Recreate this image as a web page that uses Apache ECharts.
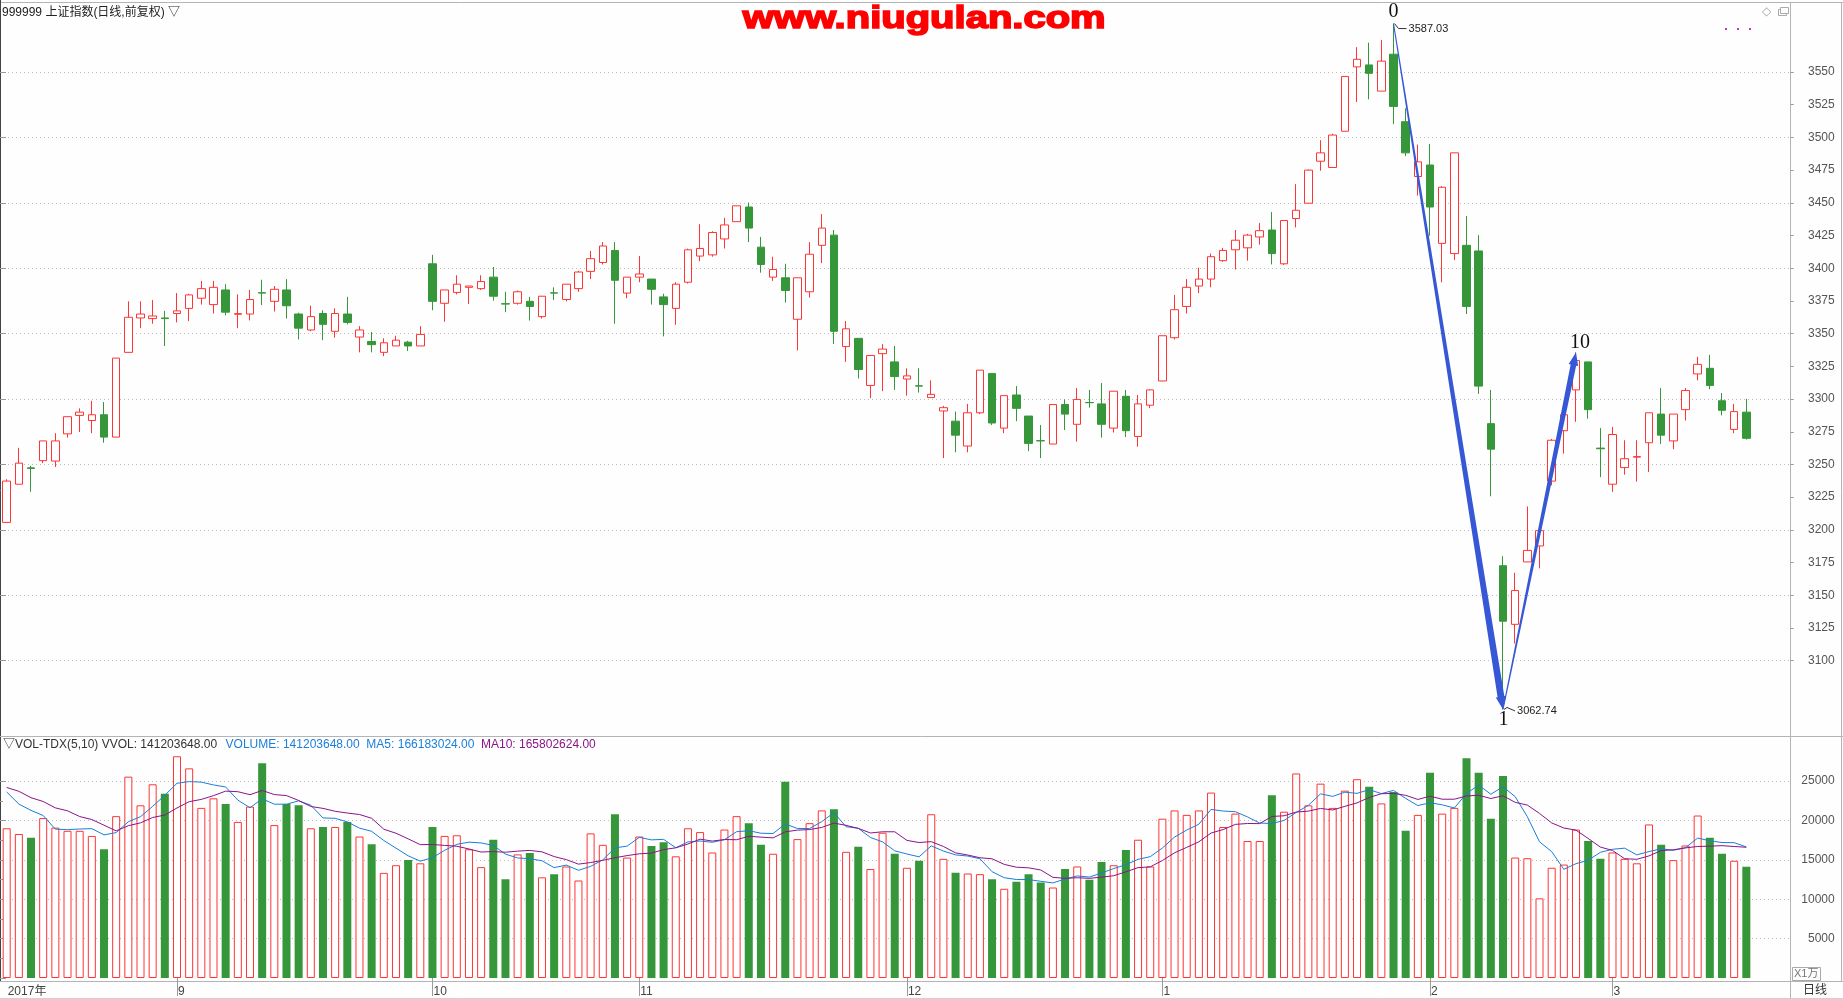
<!DOCTYPE html>
<html>
<head>
<meta charset="utf-8">
<title>上证指数 日线</title>
<script src="https://cdn.jsdelivr.net/npm/echarts@6.0.0/dist/echarts.min.js"></script>
<style>
html,body{margin:0;padding:0;background:#fefefe;overflow:hidden;}
#chart{width:1843px;height:999px;}
</style>
</head>
<body>
<div id="chart"></div>
<script>
// ---------------- data ----------------
const dates = [
'2017-08-14','2017-08-15','2017-08-16','2017-08-17','2017-08-18','2017-08-21','2017-08-22','2017-08-23','2017-08-24','2017-08-25','2017-08-28','2017-08-29','2017-08-30','2017-08-31',
'2017-09-01','2017-09-04','2017-09-05','2017-09-06','2017-09-07','2017-09-08','2017-09-11','2017-09-12','2017-09-13','2017-09-14','2017-09-15','2017-09-18','2017-09-19','2017-09-20','2017-09-21','2017-09-22','2017-09-25','2017-09-26','2017-09-27','2017-09-28','2017-09-29',
'2017-10-09','2017-10-10','2017-10-11','2017-10-12','2017-10-13','2017-10-16','2017-10-17','2017-10-18','2017-10-19','2017-10-20','2017-10-23','2017-10-24','2017-10-25','2017-10-26','2017-10-27','2017-10-30','2017-10-31',
'2017-11-01','2017-11-02','2017-11-03','2017-11-06','2017-11-07','2017-11-08','2017-11-09','2017-11-10','2017-11-13','2017-11-14','2017-11-15','2017-11-16','2017-11-17','2017-11-20','2017-11-21','2017-11-22','2017-11-23','2017-11-24','2017-11-27','2017-11-28','2017-11-29','2017-11-30',
'2017-12-01','2017-12-04','2017-12-05','2017-12-06','2017-12-07','2017-12-08','2017-12-11','2017-12-12','2017-12-13','2017-12-14','2017-12-15','2017-12-18','2017-12-19','2017-12-20','2017-12-21','2017-12-22','2017-12-25','2017-12-26','2017-12-27','2017-12-28','2017-12-29',
'2018-01-02','2018-01-03','2018-01-04','2018-01-05','2018-01-08','2018-01-09','2018-01-10','2018-01-11','2018-01-12','2018-01-15','2018-01-16','2018-01-17','2018-01-18','2018-01-19','2018-01-22','2018-01-23','2018-01-24','2018-01-25','2018-01-26','2018-01-29','2018-01-30','2018-01-31',
'2018-02-01','2018-02-02','2018-02-05','2018-02-06','2018-02-07','2018-02-08','2018-02-09','2018-02-12','2018-02-13','2018-02-14','2018-02-22','2018-02-23','2018-02-26','2018-02-27','2018-02-28',
'2018-03-01','2018-03-02','2018-03-05','2018-03-06','2018-03-07','2018-03-08','2018-03-09','2018-03-12','2018-03-13','2018-03-14','2018-03-15','2018-03-16'
];

const opens = [3205.7,3234.9,3247.4,3252.9,3252.6,3273.4,3287.5,3283.6,3288.0,3270.9,
3335.7,3362.0,3361.5,3362.0,3365.4,3369.3,3377.1,3372.2,3383.4,3364.8,
3365.0,3381.3,3374.7,3383.4,3365.0,3352.8,3365.4,3351.8,3365.0,3347.4,
3344.0,3335.7,3340.6,3343.5,3340.6,3403.4,3373.2,3381.5,3385.4,3384.4,
3393.2,3372.9,3373.2,3374.7,3363.0,3381.2,3376.1,3384.4,3397.6,3404.4,
3413.6,3381.0,3393.2,3391.7,3378.1,3369.3,3389.3,3409.3,3410.2,3422.4,
3435.6,3446.8,3416.1,3393.2,3392.7,3361.0,3382.0,3417.5,3425.3,3340.1,
3346.4,3310.4,3334.7,3328.4,3315.3,3310.1,3301.1,3290.9,3283.1,3264.1,
3289.5,3319.6,3277.8,3303.1,3287.0,3268.2,3265.6,3295.8,3280.7,3297.4,
3296.3,3277.8,3302.1,3271.4,3295.3,3313.8,3346.9,3370.8,3386.4,3391.7,
3405.8,3414.1,3415.6,3423.9,3429.2,3403.4,3438.0,3449.7,3481.8,3477.0,
3504.7,3553.9,3555.4,3535.4,3563.6,3512.0,3470.1,3478.9,3419.0,3411.2,
3417.5,3413.2,3281.2,3172.6,3127.8,3175.5,3187.7,3237.3,3275.8,3307.0,
3328.4,3262.5,3234.9,3247.6,3255.6,3266.6,3288.5,3268.0,3291.9,3319.2,
3323.5,3298.7,3276.8,3290.0];

const closes = [3237.3,3251.0,3247.0,3268.0,3268.0,3286.5,3290.0,3288.0,3270.9,3331.3,
3362.5,3365.0,3363.5,3361.5,3367.4,3379.6,3384.4,3385.4,3366.4,3365.3,
3376.1,3381.0,3383.9,3371.3,3354.2,3363.0,3357.1,3365.4,3358.6,3352.8,
3341.6,3343.0,3345.0,3340.6,3349.4,3374.7,3383.4,3387.8,3386.4,3389.8,
3378.6,3372.6,3382.0,3370.8,3378.6,3381.0,3387.8,3397.1,3407.3,3417.0,
3390.8,3393.2,3395.6,3383.9,3372.2,3387.8,3414.1,3415.1,3427.3,3433.1,
3447.7,3430.7,3402.9,3399.0,3383.0,3392.7,3410.7,3430.7,3351.8,3353.7,
3322.6,3333.3,3338.2,3317.2,3317.7,3309.9,3303.6,3293.4,3272.4,3289.5,
3322.1,3281.7,3302.6,3292.9,3266.1,3268.0,3295.8,3288.5,3299.7,3297.2,
3280.7,3306.0,3275.8,3296.3,3307.0,3348.4,3368.3,3385.4,3391.7,3408.8,
3413.6,3421.4,3425.3,3428.7,3411.2,3436.5,3444.3,3475.0,3488.2,3501.8,
3546.6,3559.7,3549.0,3558.3,3523.7,3488.2,3481.3,3446.8,3461.9,3488.2,
3370.8,3309.9,3261.7,3130.2,3153.6,3184.3,3199.4,3268.5,3288.0,3329.4,
3291.9,3262.0,3272.9,3254.4,3256.0,3289.5,3272.4,3288.5,3306.5,3326.5,
3310.4,3291.4,3290.4,3270.0];

const lows = [3205.7,3234.9,3229.1,3251.0,3248.1,3270.5,3274.8,3273.9,3266.6,3270.9,
3335.7,3354.2,3357.6,3340.6,3358.6,3359.6,3372.2,3365.4,3364.0,3354.2,
3360.1,3371.8,3366.9,3361.5,3345.5,3351.8,3345.0,3346.9,3357.1,3335.7,
3335.7,3332.8,3340.6,3336.7,3340.6,3367.9,3359.1,3380.0,3372.7,3383.4,
3375.2,3366.4,3372.2,3360.0,3361.5,3375.7,3374.7,3382.0,3391.7,3402.9,
3357.6,3377.1,3389.3,3372.2,3347.9,3356.7,3388.3,3405.4,3408.8,3415.1,
3435.6,3420.0,3396.6,3390.3,3373.7,3337.2,3377.6,3403.9,3342.0,3328.4,
3315.7,3300.7,3306.0,3307.0,3302.6,3305.0,3301.1,3254.9,3259.3,3259.3,
3288.5,3280.2,3273.9,3283.1,3260.2,3254.9,3265.6,3276.3,3267.5,3293.4,
3270.5,3274.4,3271.0,3263.6,3293.0,3313.8,3345.5,3365.4,3381.0,3385.4,
3404.9,3399.0,3405.8,3418.0,3402.9,3402.4,3431.2,3449.7,3474.5,3477.0,
3504.7,3527.1,3529.1,3535.4,3510.1,3485.7,3455.5,3424.8,3389.3,3406.3,
3365.0,3304.0,3225.7,3062.74,3113.2,3175.5,3170.6,3234.0,3258.3,3282.6,
3285.0,3240.3,3229.1,3242.2,3236.9,3244.2,3265.6,3261.7,3283.6,3314.3,
3307.5,3287.5,3273.9,3269.0];

const highs = [3238.7,3262.7,3249.0,3268.0,3273.9,3286.5,3292.9,3298.7,3297.7,3331.3,
3374.7,3374.7,3375.7,3367.4,3381.0,3380.5,3390.3,3390.3,3387.8,3380.0,
3383.4,3391.2,3386.4,3391.7,3366.0,3371.3,3367.9,3369.3,3378.1,3355.7,
3351.3,3346.4,3348.4,3344.5,3355.7,3410.2,3383.4,3394.6,3386.4,3394.6,
3401.0,3382.0,3383.0,3378.1,3378.6,3385.4,3387.8,3398.0,3413.2,3420.0,
3420.0,3393.2,3409.3,3391.7,3380.5,3389.3,3415.0,3433.6,3428.3,3438.5,
3447.7,3450.2,3423.9,3408.8,3403.4,3392.7,3420.0,3441.4,3429.2,3359.6,
3346.4,3333.3,3342.0,3340.6,3323.5,3323.5,3314.3,3294.8,3290.4,3296.3,
3322.1,3319.6,3302.6,3309.9,3287.0,3280.2,3295.8,3299.7,3308.4,3307.0,
3312.3,3306.0,3307.0,3303.1,3307.5,3348.4,3379.6,3391.7,3400.5,3411.2,
3415.6,3429.2,3426.3,3434.6,3442.9,3436.5,3464.3,3475.5,3497.9,3502.8,
3546.6,3569.0,3572.4,3574.4,3587.03,3522.2,3494.5,3495.0,3462.8,3488.2,
3439.9,3425.3,3307.0,3179.9,3167.2,3217.9,3199.4,3269.5,3288.0,3335.7,
3328.4,3277.8,3278.7,3268.5,3268.5,3289.5,3308.4,3288.5,3308.4,3332.3,
3333.8,3304.6,3296.3,3300.2];

// volume in 万 (x10000)
const volumes = [19012,18283,17798,20306,19092,18688,18688,18041,16342,20549,
25564,21924,24594,23380,28153,26616,21600,22814,22086,19820,
21762,27263,19416,22086,21924,19012,19173,19173,19820,17960,
16989,13349,14319,14967,14562,19173,18041,18122,16342,14077,
17555,12540,15695,15856,12782,13187,14158,12378,18364,16908,
20791,15290,17960,16746,17232,15452,19012,18526,15937,18850,
20549,19659,16908,15776,24917,17636,19659,21277,21439,16018,
16665,13834,18445,15776,13996,14886,20791,15128,13349,13268,
13187,12540,11326,12216,13187,12135,11488,13834,14158,12459,
14724,14319,16261,17555,14158,20225,21277,20710,21277,23542,
19173,20872,17394,17394,23218,21115,25969,21924,24675,21600,
23785,25241,24270,22167,23623,18688,20710,26050,20872,21600,
27911,26050,20225,25645,15290,15209,10113,13996,14400,18850,
17394,15128,15937,15128,14562,19497,16908,14967,16827,20630,
17798,15776,14886,14120.36];

// volumes of the 9 sessions before 2017-08-14 (estimated from where the MA5 / MA10 lines start)
const priorVolumes = [23133,25898,25156,27182,22406,25968,21843,23541,27751];

// wave annotation points
const waveIdx = [114, 123, 129];
const wavePrice = [3587.03, 3062.74, 3335.7];
const waveNames = ['0', '1', '10'];

const titleText = '999999 上证指数(日线,前复权) ▽';
const volHead1 = '▽VOL-TDX(5,10) VVOL: 141203648.00';
const volHead2 = 'VOLUME: 141203648.00  MA5: 166183024.00';
const volHead3 = 'MA10: 165802624.00';
const watermark = 'www.niugulan.com';

// ---------------- derived ----------------
const RED = '#ff3434', GREEN = '#36963a';
const allVol = priorVolumes.concat(volumes);
function movingAvg(n) {
  const off = priorVolumes.length;
  return volumes.map((_, i) => {
    let s = 0;
    for (let k = 0; k < n; k++) s += allVol[i + off - k];
    return +(s / n).toFixed(1);
  });
}
const ma5 = movingAvg(5);
const ma10 = movingAvg(10);
const candleData = dates.map((d, i) => [opens[i], closes[i], lows[i], highs[i]]);
const volData = volumes.map((v, i) => ({
  value: v,
  itemStyle: closes[i] >= opens[i]
    ? { color: '#ffffff', borderColor: RED, borderWidth: 1 }
    : { color: GREEN, borderColor: GREEN, borderWidth: 0 }
}));
function isMonthStart(i) {
  return i === 0 || dates[i].slice(5, 7) !== dates[i - 1].slice(5, 7);
}
const segData = waveIdx.slice(0, -1).map((x, k) => [waveIdx[k], wavePrice[k], waveIdx[k + 1], wavePrice[k + 1]]);
const waveData = waveIdx.map((x, k) => [x, wavePrice[k]]);

// ---------------- layout ----------------
const PLOT_L = 0.6, PLOT_W = 1751.8;       // candle area
const PANE_W = 1790.7;                      // pane incl. empty right part
const SANS = '"Liberation Sans","Noto Sans CJK SC","DejaVu Sans",sans-serif';
const SERIF = '"Liberation Serif","DejaVu Serif",serif';
const ARROW = '#3658d6';

function arrowItem(params, api) {
  const a = api.coord([api.value(0), api.value(1)]);
  const b = api.coord([api.value(2), api.value(3)]);
  const k = params.dataIndex;
  const endHalf = [3.4, 2.8][k] || 3, headHalf = [5.2, 4.8][k] || 5, headLen = 13, startHalf = 0.5;
  const dx = b[0] - a[0], dy = b[1] - a[1], len = Math.hypot(dx, dy);
  const ux = dx / len, uy = dy / len, nx = -uy, ny = ux;
  const sx = b[0] - ux * headLen, sy = b[1] - uy * headLen;
  const pts = [
    [a[0] + nx * startHalf, a[1] + ny * startHalf],
    [sx + nx * endHalf, sy + ny * endHalf],
    [sx + nx * headHalf, sy + ny * headHalf],
    [b[0], b[1]],
    [sx - nx * headHalf, sy - ny * headHalf],
    [sx - nx * endHalf, sy - ny * endHalf],
    [a[0] - nx * startHalf, a[1] - ny * startHalf]
  ];
  return { type: 'polygon', shape: { points: pts }, style: { fill: ARROW } };
}

function txt(text, x, y, font, fill, align, valign) {
  return { type: 'text', style: { text, x, y, font, fill, align, textAlign: align, verticalAlign: valign, textVerticalAlign: valign } };
}

function waveLabelItem(params, api) {
  const k = params.dataIndex;
  const p = api.coord([api.value(0), api.value(1)]);
  const nameFont = '20px ' + SERIF;
  const priceFont = '11px ' + SANS;
  const ch = [];
  if (k === 0) {
    ch.push(txt(waveNames[k], p[0], p[1] - 12, nameFont, '#111', 'center', 'middle'));
    ch.push({ type: 'polyline', shape: { points: [[p[0] + 1, p[1]], [p[0] + 5, p[1] + 5], [p[0] + 13, p[1] + 5]] }, style: { stroke: '#333', lineWidth: 1, fill: null } });
    ch.push(txt(wavePrice[k].toFixed(2), p[0] + 15, p[1] + 5.5, priceFont, '#222', 'left', 'middle'));
  } else if (k === 1) {
    ch.push(txt(waveNames[k], p[0] + 0.5, p[1] + 10, nameFont, '#111', 'center', 'middle'));
    ch.push({ type: 'polyline', shape: { points: [[p[0] + 1, p[1]], [p[0] + 4, p[1] - 2], [p[0] + 12, p[1] + 1.5]] }, style: { stroke: '#333', lineWidth: 1, fill: null } });
    ch.push(txt(wavePrice[k].toFixed(2), p[0] + 14, p[1] + 1.6, priceFont, '#222', 'left', 'middle'));
  } else {
    ch.push(txt(waveNames[k], p[0] + 4, p[1] - 10, nameFont, '#111', 'center', 'middle'));
  }
  return { type: 'group', children: ch };
}

const gline = (x1, y1, x2, y2, c) => ({ type: 'line', silent: true, shape: { x1, y1, x2, y2 }, style: { stroke: c, lineWidth: 1 } });
const gtext = (text, x, y, font, fill, align, extra, styleExtra) => Object.assign({
  type: 'text', silent: true, x, y,
  style: Object.assign({ text, x: 0, y: 0, font, fill, align, textAlign: align, verticalAlign: 'middle', textVerticalAlign: 'middle' }, styleExtra || {})
}, extra || {});

const option = {
  backgroundColor: '#fefefe',
  animation: false,
  grid: [
    { left: PLOT_L, width: PLOT_W, top: 3, height: 733 },          // price data
    { left: 0, width: PANE_W, top: 72, height: 588.7 },             // price scale 3100..3550
    { left: PLOT_L, width: PLOT_W, top: 736, height: 242 },         // volume data
    { left: 0, width: PANE_W, top: 781.1, height: 196.9 }           // volume scale 0..25000
  ],
  xAxis: [
    { gridIndex: 0, type: 'category', data: dates, boundaryGap: true, show: false },
    { gridIndex: 1, type: 'value', min: 0, max: 1, show: false },
    {
      gridIndex: 2, type: 'category', data: dates, boundaryGap: true, position: 'bottom', offset: 3,
      axisLine: { show: false },
      axisTick: { show: true, alignWithLabel: true, length: 18, interval: (i) => i > 0 && isMonthStart(i), lineStyle: { color: '#9a9a9a' } },
      axisLabel: {
        interval: (i) => isMonthStart(i), margin: 5, align: 'left', padding: [0, 0, 0, 1],
        color: '#444', fontSize: 12, fontFamily: SANS,
        formatter: (v, i) => i === 0 ? v.slice(0, 4) + '年' : String(+v.slice(5, 7))
      },
      splitLine: { show: false }
    },
    { gridIndex: 3, type: 'value', min: 0, max: 1, show: false }
  ],
  yAxis: [
    { gridIndex: 0, type: 'value', min: 3042.44, max: 3602.74, show: false, splitLine: { show: false } },
    {
      gridIndex: 1, type: 'value', position: 'right', min: 3100, max: 3550, interval: 50,
      axisLine: { show: false }, axisLabel: { show: false },
      axisTick: { show: true, length: 6, lineStyle: { color: '#999' } },
      splitLine: { show: true, lineStyle: { color: '#bdbdbd', type: [1, 3], width: 1 } }
    },
    {
      gridIndex: 1, type: 'value', position: 'right', min: 3100, max: 3550, interval: 25,
      axisLine: { show: false },
      axisTick: { show: true, length: 3, lineStyle: { color: '#999' } },
      axisLabel: { show: true, align: 'right', margin: 44, color: '#555', fontSize: 12, fontFamily: SANS, formatter: (v) => String(v) },
      splitLine: { show: false }
    },
    { gridIndex: 2, type: 'value', min: 0, max: 30726, show: false, splitLine: { show: false } },
    {
      gridIndex: 3, type: 'value', position: 'right', min: 0, max: 25000, interval: 5000,
      axisLine: { show: false },
      axisTick: { show: true, length: 6, lineStyle: { color: '#999' } },
      minorTick: { show: true, splitNumber: 2, length: 3, lineStyle: { color: '#999' } },
      axisLabel: { show: true, align: 'right', margin: 44, color: '#555', fontSize: 12, fontFamily: SANS, showMinLabel: false, formatter: (v) => String(v) },
      splitLine: { show: true, showMinLine: false, lineStyle: { color: '#bdbdbd', type: [1, 3], width: 1 } }
    }
  ],
  series: [
    {
      type: 'candlestick', xAxisIndex: 0, yAxisIndex: 0, data: candleData, barWidth: 8,
      itemStyle: { color: '#ffffff', color0: GREEN, borderColor: RED, borderColor0: GREEN, borderWidth: 1 }
    },
    { type: 'bar', xAxisIndex: 2, yAxisIndex: 3, data: volData, barWidth: 8 },
    { type: 'line', name: 'MA5', xAxisIndex: 2, yAxisIndex: 3, data: ma5, symbol: 'none', lineStyle: { color: '#1a7fd9', width: 1 }, z: 5 },
    { type: 'line', name: 'MA10', xAxisIndex: 2, yAxisIndex: 3, data: ma10, symbol: 'none', lineStyle: { color: '#8a148a', width: 1 }, z: 5 },
    { type: 'custom', xAxisIndex: 0, yAxisIndex: 0, data: segData, encode: { x: [0, 2], y: [1, 3] }, renderItem: arrowItem, z: 10, clip: false },
    { type: 'custom', xAxisIndex: 0, yAxisIndex: 0, data: waveData, encode: { x: 0, y: 1 }, renderItem: waveLabelItem, z: 11, clip: false }
  ],
  graphic: [
    // frame
    gline(0, 2.5, 1843, 2.5, '#b4b4b4'),
    gline(0.5, 0, 0.5, 981, '#444'),
    gline(0, 736.5, 1843, 736.5, '#b4b4b4'),
    gline(1790.5, 2, 1790.5, 999, '#b4b4b4'),
    gline(1841.5, 2, 1841.5, 981, '#b4b4b4'),
    gline(0, 981.5, 1843, 981.5, '#b4b4b4'),
    gline(0, 998.5, 1843, 998.5, '#d0d0d0'),
    // headers
    gtext(titleText, 2, 12.5, '12px ' + SANS, '#222', 'left'),
    gtext(volHead1, 3, 745, '12px ' + SANS, '#333', 'left'),
    gtext(volHead2, 225.6, 745, '12px ' + SANS, '#1a7fd9', 'left'),
    gtext(volHead3, 481, 745, '12px ' + SANS, '#8a148a', 'left'),
    // watermark (wide heavy face: bold sans stretched horizontally)
    gtext(watermark, 924.2, 19, 'bold 31px ' + SANS, '#ff0000', 'center', { scaleX: 1.29 }, { stroke: '#ff0000', lineWidth: 1.6 }),
    // top-right icons
    gtext('◇', 1766.5, 11.5, '12px "DejaVu Sans",sans-serif', '#aaa', 'center'),
    { type: 'rect', silent: true, shape: { x: 1778.5, y: 9.5, width: 8, height: 6 }, style: { stroke: '#aaa', fill: '#fefefe', lineWidth: 1 } },
    { type: 'rect', silent: true, shape: { x: 1780.5, y: 7.5, width: 8, height: 6 }, style: { stroke: '#aaa', fill: '#fefefe', lineWidth: 1 } },
    { type: 'rect', silent: true, shape: { x: 1725, y: 28, width: 2, height: 2 }, style: { fill: '#cc33cc' } },
    { type: 'rect', silent: true, shape: { x: 1737, y: 28, width: 2, height: 2 }, style: { fill: '#cc33cc' } },
    { type: 'rect', silent: true, shape: { x: 1749, y: 28, width: 2, height: 2 }, style: { fill: '#cc33cc' } },
    // unit box & period label
    { type: 'rect', silent: true, shape: { x: 1792.5, y: 967.5, width: 28, height: 13 }, style: { stroke: '#aaa', fill: '#fefefe', lineWidth: 1 } },
    gtext('X1万', 1794, 974, '11px ' + SANS, '#777', 'left'),
    gtext('日线', 1815, 990.5, '12px ' + SANS, '#333', 'center')
  ]
};

const chart = echarts.init(document.getElementById('chart'), null, { renderer: 'canvas' });
chart.setOption(option);
</script>
</body>
</html>
